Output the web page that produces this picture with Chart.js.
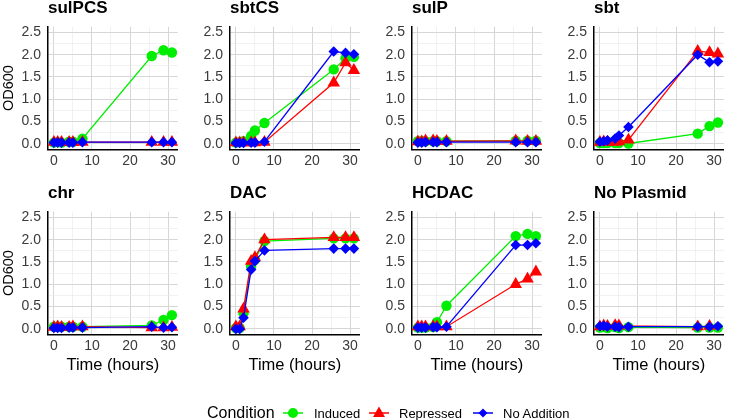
<!DOCTYPE html>
<html><head><meta charset="utf-8">
<script src="https://cdn.jsdelivr.net/npm/chart.js@4.4.1/dist/chart.umd.min.js"></script>
<style>
html,body{margin:0;padding:0;background:#fff;width:732px;height:420px;overflow:hidden;font-family:'Liberation Sans',Arial,sans-serif;}
canvas{position:absolute;}
.leg{position:absolute;white-space:nowrap;color:#000;line-height:1;}
.key{position:absolute;}
</style></head><body>
<div id="root"></div>
<script>
// ---------- data ----------
const panelNames = ['sulPCS','sbtCS','sulP','sbt','chr','DAC','HCDAC','No Plasmid'];
const hours = [0, 1, 2, 4, 5, 7.5, 25.7, 28.8, 31];
const conditions = ['Induced','Repressed','No Addition'];

const induced = [
  [0.03,0.04,0.03,0.05,0.05,0.12,1.97,2.10,2.05],
  [0.03,0.04,0.06,0.18,0.30,0.47,1.67,1.92,1.95],
  [0.06,0.06,0.06,0.06,0.06,0.06,0.07,0.07,0.07],
  [0.02,0.02,0.02,0.02,0.02,0.01,0.23,0.40,0.48],
  [0.05,0.05,0.05,0.05,0.05,0.05,0.08,0.20,0.31],
  [0.02,0.02,0.35,1.40,1.55,1.97,2.03,2.03,2.03],
  [0.03,0.03,0.03,0.04,0.15,0.52,2.08,2.13,2.08],
  [0.03,0.04,0.02,0.04,0.02,0.04,0.03,0.03,0.03]
];
const repressed = [
  [0.04,0.04,0.04,0.04,0.04,0.04,0.04,0.04,0.04],
  [0.03,0.03,0.03,0.03,0.03,0.04,1.37,1.82,1.65],
  [0.05,0.05,0.07,0.07,0.06,0.06,0.07,0.06,0.06],
  [0.04,0.05,0.04,0.04,0.05,0.09,2.08,2.05,2.02],
  [0.04,0.05,0.04,0.04,0.05,0.05,0.03,0.03,0.04],
  [0.05,0.05,0.45,1.52,1.60,2.00,2.05,2.05,2.05],
  [0.05,0.05,0.05,0.05,0.05,0.05,1.00,1.12,1.28],
  [0.05,0.07,0.06,0.08,0.07,null,0.05,0.06,null]
];
const noAddition = [
  [0.03,0.03,0.03,0.03,0.03,0.04,0.04,0.04,0.04],
  [0.02,0.02,0.02,0.03,0.03,0.05,2.07,2.04,2.01],
  [0.03,0.03,0.04,0.04,0.04,0.04,0.04,0.04,0.04],
  [0.05,0.06,0.08,0.12,0.19,0.38,2.00,1.83,1.85],
  [0.02,0.02,0.02,0.03,0.03,0.03,0.05,0.03,0.04],
  [0.00,0.00,0.25,1.33,1.52,1.76,1.80,1.80,1.80],
  [0.03,0.03,0.03,0.04,0.04,0.05,1.88,1.88,1.92],
  [0.06,0.07,0.05,0.05,0.04,0.05,0.05,0.05,0.06]
];

const xTickValues = [0,5,10,15,20,25,30];
const xTickLabels = ['0','','10','','20','','30'];
const yTickValues = [0,0.25,0.5,0.75,1,1.25,1.5,1.75,2,2.25,2.5];
const yTickLabels = ['0.0','','0.5','','1.0','','1.5','','2.0','','2.5'];

// ---------- styles / layout ----------
const FONT = "'Liberation Sans', Arial, sans-serif";
Chart.defaults.font.family = FONT;
const seriesStyle = [
  {color:'#00EE00', point:'circle',   radius:5.2, order:3},
  {color:'#FF0000', point:'triangle', radius:7.2, order:2},
  {color:'#0000FF', point:'rectRot',  radius:5.3, order:1}
];
const seriesData = [induced, repressed, noAddition];
const GRID_MAJOR = '#d6d6d6', GRID_MINOR = '#ebebeb';

const root = document.getElementById('root');

panelNames.forEach((name, i) => {
  const row = Math.floor(i / 4), col = i % 4;
  const cv = document.createElement('canvas');
  const W = 185, H = row ? 190 : 170;
  cv.width = W; cv.height = H;
  cv.style.left = (col * 182) + 'px';
  cv.style.top = (row * 185) + 'px';
  cv.style.width = W + 'px'; cv.style.height = H + 'px';
  root.appendChild(cv);

  const datasets = conditions.map((cond, k) => ({
    label: cond,
    data: hours.map((h, j) => ({x: h, y: seriesData[k][i][j]})),
    borderColor: seriesStyle[k].color,
    backgroundColor: seriesStyle[k].color,
    pointBackgroundColor: seriesStyle[k].color,
    pointBorderColor: seriesStyle[k].color,
    pointBorderWidth: 0,
    pointStyle: seriesStyle[k].point,
    pointRadius: seriesStyle[k].radius,
    borderWidth: 1.3,
    tension: 0,
    spanGaps: true,
    clip: false,
    order: seriesStyle[k].order
  }));

  new Chart(cv, {
    type: 'line',
    data: {datasets},
    options: {
      responsive: false,
      animation: false,
      devicePixelRatio: 1,
      layout: {padding: 0},
      plugins: {
        legend: {display: false},
        tooltip: {enabled: false},
        title: {
          display: true, text: name, align: 'start', fullSize: false,
          color: '#000', font: {size: 17, weight: 'bold', lineHeight: 1},
          padding: {top: 0, bottom: 9.7}
        }
      },
      scales: {
        x: {
          type: 'linear', min: -1.55, max: 32.55,
          afterBuildTicks: s => { s.ticks = xTickValues.map(v => ({value: v})); },
          afterFit: s => { s.height = row ? 40.4 : 20.4; },
          ticks: {autoSkip: false, maxRotation: 0, padding: 3, color: '#3a3a3a',
                  font: {size: 14}, callback: (v, idx) => xTickLabels[idx]},
          grid: {drawTicks: false,
                 color: c => (c.index % 2 === 0 ? GRID_MAJOR : GRID_MINOR),
                 lineWidth: c => (c.index % 2 === 0 ? 1 : 0.7)},
          border: {display: true, color: '#000', width: 1.5},
          title: {display: row === 1, text: 'Time (hours)', color: '#000',
                  font: {size: 16.5}, padding: 0}
        },
        y: {
          type: 'linear', min: -0.127, max: 2.627,
          afterBuildTicks: s => { s.ticks = yTickValues.map(v => ({value: v})); },
          afterFit: s => { s.width = 48; },
          ticks: {autoSkip: false, padding: 7, color: '#3a3a3a',
                  font: {size: 14}, callback: (v, idx) => yTickLabels[idx]},
          grid: {drawTicks: false,
                 color: c => (c.index % 2 === 0 ? GRID_MAJOR : GRID_MINOR),
                 lineWidth: c => (c.index % 2 === 0 ? 1 : 0.7)},
          border: {display: true, color: '#000', width: 1.5},
          title: {display: col === 0, text: 'OD600', color: '#000',
                  font: {size: 14.5}, padding: 0}
        }
      }
    }
  });
});

// ---------- legend ----------
function addText(txt, left, size, cy) {
  const d = document.createElement('div');
  d.className = 'leg';
  d.textContent = txt;
  d.style.left = left + 'px';
  d.style.fontSize = size + 'px';
  d.style.top = (cy - size / 2) + 'px';
  root.appendChild(d);
}
function addKey(k, left, cy) {
  const ns = 'http://www.w3.org/2000/svg';
  const svg = document.createElementNS(ns, 'svg');
  svg.setAttribute('width', 22); svg.setAttribute('height', 16);
  svg.setAttribute('class', 'key');
  svg.style.left = left + 'px'; svg.style.top = (cy - 8) + 'px';
  const col = seriesStyle[k].color;
  const ln = document.createElementNS(ns, 'line');
  ln.setAttribute('x1', 1); ln.setAttribute('x2', 21); ln.setAttribute('y1', 8); ln.setAttribute('y2', 8);
  ln.setAttribute('stroke', col); ln.setAttribute('stroke-width', 1.5);
  svg.appendChild(ln);
  let shape;
  if (k === 0) {
    shape = document.createElementNS(ns, 'circle');
    shape.setAttribute('cx', 11); shape.setAttribute('cy', 8); shape.setAttribute('r', 5);
  } else if (k === 1) {
    shape = document.createElementNS(ns, 'polygon');
    shape.setAttribute('points', '11,1.5 17,12 5,12');
  } else {
    shape = document.createElementNS(ns, 'polygon');
    shape.setAttribute('points', '11,3.5 15.5,8 11,12.5 6.5,8');
  }
  shape.setAttribute('fill', col);
  svg.appendChild(shape);
  root.appendChild(svg);
}
const LCY = 413;
addText('Condition', 207, 16, LCY);
addKey(0, 282, LCY); addText(conditions[0], 314, 13, LCY);
addKey(1, 368, LCY); addText(conditions[1], 399, 13, LCY);
addKey(2, 472, LCY); addText(conditions[2], 503, 13, LCY);
</script>
</body></html>
